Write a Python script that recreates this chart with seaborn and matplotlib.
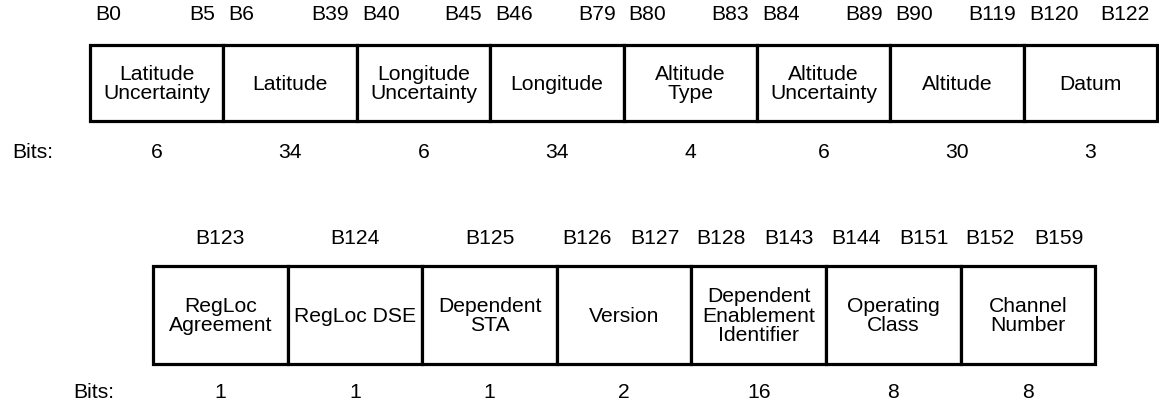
import numpy as np
import matplotlib
matplotlib.use("Agg")
import matplotlib.pyplot as plt
import seaborn as sns

sns.set_style("white")
plt.rcParams['font.family'] = ['Liberation Sans', 'DejaVu Sans']
plt.rcParams['text.color'] = 'black'

# 字段定义
top_fields = ["Latitude\nUncertainty", "Latitude", "Longitude\nUncertainty", "Longitude",
              "Altitude\nType", "Altitude\nUncertainty", "Altitude", "Datum"]
top_bits = [6, 34, 6, 34, 4, 6, 30, 3]

bottom_fields = ["RegLoc\nAgreement", "RegLoc DSE", "Dependent\nSTA", "Version",
                 "Dependent\nEnablement\nIdentifier", "Operating\nClass", "Channel\nNumber"]
bottom_bits = [1, 1, 1, 2, 16, 8, 8]

FS = 15.2
LW = 2.3


def draw_row(ax, fields, bits, start_bit, x0, box_w, y_top, y_bot,
             y_lab, y_bits, bits_x, r_off):
    n = len(fields)
    lefts = x0 + box_w * np.arange(n)
    centers = lefts + box_w / 2
    ax.bar(centers, y_bot - y_top, bottom=y_top, width=box_w,
           color='white', edgecolor='black', linewidth=LW, zorder=2)
    first = start_bit + np.concatenate([[0], np.cumsum(bits)[:-1]])
    last = first + np.array(bits) - 1
    for i in range(n):
        ax.text(centers[i], (y_top + y_bot) / 2 + 1, fields[i], ha='center', va='center',
                fontsize=FS, linespacing=1.02, zorder=3)
        ax.text(centers[i], y_bits, str(bits[i]), ha='center', va='center', fontsize=FS)
        if bits[i] == 1:
            ax.text(centers[i], y_lab, f"B{first[i]}", ha='center', va='center', fontsize=FS)
        else:
            ax.text(lefts[i] + 5, y_lab, f"B{first[i]}", ha='left', va='center', fontsize=FS)
            ax.text(lefts[i] + box_w - r_off, y_lab, f"B{last[i]}", ha='right',
                    va='center', fontsize=FS)
    ax.text(bits_x, y_bits, "Bits:", ha='left', va='center', fontsize=FS)
    return first[-1] + bits[-1]


fig = plt.figure(figsize=(11.59, 4.04), dpi=100)
ax = fig.add_axes([0, 0, 1, 1])
ax.set_xlim(0, 1159)
ax.set_ylim(404, 0)
ax.axis('off')

nxt = draw_row(ax, top_fields, top_bits, 0, 90, 133.4, 45, 121, 15, 152, 12, 8)
draw_row(ax, bottom_fields, bottom_bits, nxt, 153, 134.6, 266, 364, 238, 392, 73, 12)

fig.savefig("out.png", dpi=100)
plt.close(fig)
